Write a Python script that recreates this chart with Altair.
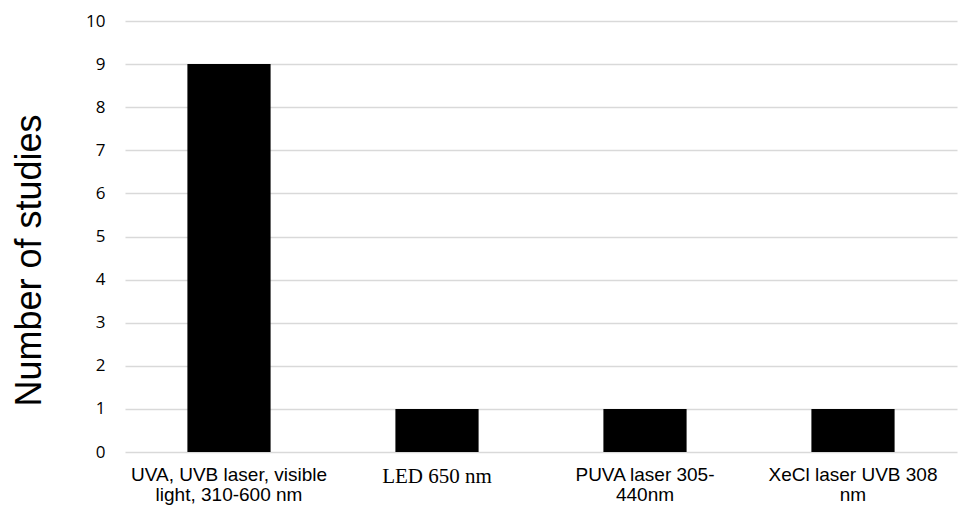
import altair as alt
import pandas as pd

categories = [
    "UVA, UVB laser, visible\nlight, 310-600 nm",
    "LED 650 nm",
    "PUVA laser 305-\n440nm",
    "XeCl laser UVB 308\nnm",
]
studies = [9, 1, 1, 1]
y_ticks = list(range(0, 11))

df = pd.DataFrame({"category": categories, "studies": studies})

chart = (
    alt.Chart(df)
    .mark_bar(color="#000000")
    .encode(
        x=alt.X(
            "category:N",
            sort=categories,
            scale=alt.Scale(paddingInner=0.6, paddingOuter=0.3),
            axis=alt.Axis(
                title=None,
                labelAngle=0,
                labelExpr="split(datum.value, '\\n')",
                labelFont={
                    "condition": {"test": "datum.value == 'LED 650 nm'", "value": "Liberation Serif"},
                    "value": "Liberation Sans",
                },
                labelFontSize={
                    "condition": {"test": "datum.value == 'LED 650 nm'", "value": 21},
                    "value": 19,
                },
                labelColor="#000000",
                labelLineHeight=20,
                labelPadding=13,
                labelBaseline="top",
                labelLimit=0,
                labelOverlap=False,
                ticks=False,
                domain=False,
                grid=False,
            ),
        ),
        y=alt.Y(
            "studies:Q",
            scale=alt.Scale(domain=[0, 10]),
            axis=alt.Axis(
                title="Number of studies",
                titleFont="Liberation Sans",
                titleFontSize=36,
                titleFontWeight="normal",
                titleColor="#000000",
                titleAngle=270,
                titleBaseline="middle",
                titleAlign="center",
                titleX=-96,
                titleY=239,
                values=y_ticks,
                labelFont="Open Sans",
                labelFontSize=17,
                labelColor="#000000",
                labelPadding=20,
                ticks=False,
                domain=False,
                grid=True,
                gridColor="#d9d9d9",
                gridWidth=1.5,
            ),
        ),
    )
    .properties(
        width=832,
        height=431,
        autosize=alt.AutoSizeParams(type="none"),
        padding={"left": 117, "top": 13, "right": 1, "bottom": 53},
    )
    .configure_view(stroke=None)
)

chart.save("out.html", embed_options={"renderer": "svg", "actions": False})
